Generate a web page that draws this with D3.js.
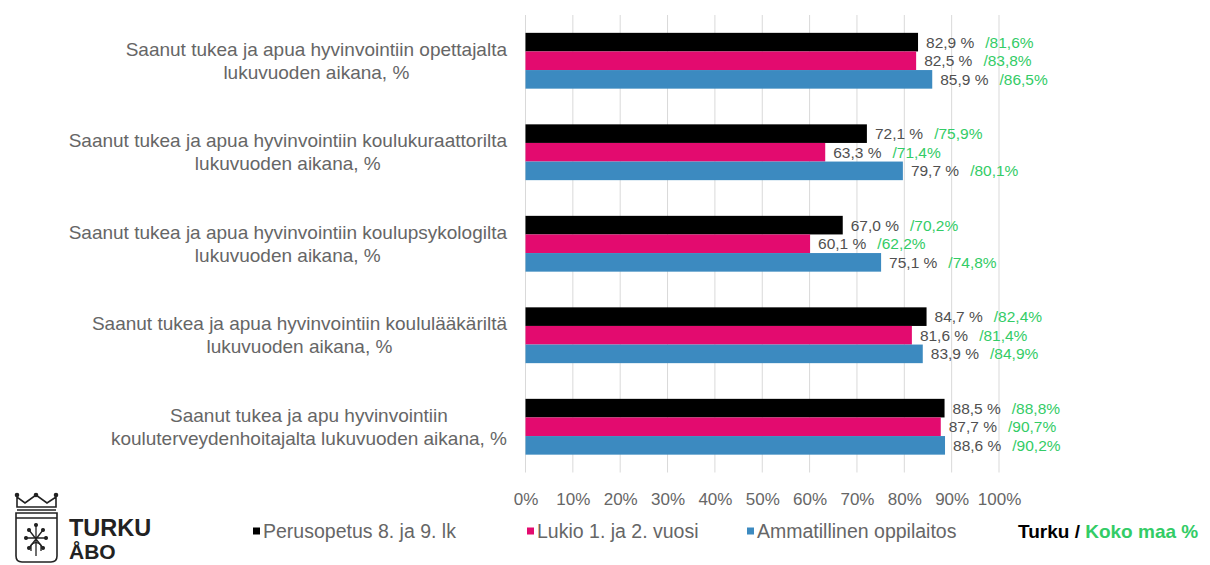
<!DOCTYPE html>
<html><head><meta charset="utf-8">
<script src="https://cdn.jsdelivr.net/npm/d3@7"></script>
<style>
html,body{margin:0;padding:0;background:#fff;}
svg{display:block;font-family:"Liberation Sans",Arial,sans-serif;}
</style></head>
<body>
<svg id="chart" width="1210" height="565"></svg>
<script>
// ---- data ----
const categories = [
  ["Saanut tukea ja apua hyvinvointiin opettajalta", "lukuvuoden aikana, %"],
  ["Saanut tukea ja apua hyvinvointiin koulukuraattorilta", "lukuvuoden aikana, %"],
  ["Saanut tukea ja apua hyvinvointiin koulupsykologilta", "lukuvuoden aikana, %"],
  ["Saanut tukea ja apua hyvinvointiin koululääkäriltä", "lukuvuoden aikana, %"],
  ["Saanut tukea ja apu hyvinvointiin", "kouluterveydenhoitajalta lukuvuoden aikana, %"]
];
const seriesNames = ["Perusopetus 8. ja 9. lk", "Lukio 1. ja 2. vuosi", "Ammatillinen oppilaitos"];
const turkuPerus = [82.9, 72.1, 67.0, 84.7, 88.5];
const turkuLukio = [82.5, 63.3, 60.1, 81.6, 87.7];
const turkuAmmat = [85.9, 79.7, 75.1, 83.9, 88.6];
const kokoMaaPerus = [81.6, 75.9, 70.2, 82.4, 88.8];
const kokoMaaLukio = [83.8, 71.4, 62.2, 81.4, 90.7];
const kokoMaaAmmat = [86.5, 80.1, 74.8, 84.9, 90.2];
const tickValues = [0,10,20,30,40,50,60,70,80,90,100];
const colors = ["#000000", "#E30B6F", "#3C8AC0"];
const green = "#33CC66";

const turku = [turkuPerus, turkuLukio, turkuAmmat];
const koko = [kokoMaaPerus, kokoMaaLukio, kokoMaaAmmat];
const fmt = v => d3.format(".1f")(v).replace(".", ",");

const svg = d3.select("#chart");
const x = d3.scaleLinear().domain([0,100]).range([525.5, 999]);
const y = d3.scaleBand().domain(d3.range(categories.length)).range([15, 472.5]).paddingInner(0.39).paddingOuter(0.195);
const ySub = d3.scaleBand().domain(d3.range(3)).range([0, y.bandwidth()]);

// gridlines
svg.append("g").selectAll("line").data(tickValues).join("line")
  .attr("x1", d => x(d)).attr("x2", d => x(d))
  .attr("y1", 15).attr("y2", 472.5)
  .attr("stroke", "#D9D9D9").attr("stroke-width", 1);

// axis
const axis = d3.axisBottom(x).tickValues(tickValues).tickFormat(d => d + "%").tickSize(0).tickPadding(20);
const gAxis = svg.append("g").attr("transform", "translate(0,472.5)").call(axis);
gAxis.select(".domain").remove();
gAxis.selectAll("text").attr("fill", "#666666").attr("font-size", 17).attr("font-family", "Liberation Sans, Arial, sans-serif");

// bars
const groups = svg.append("g").selectAll("g").data(categories).join("g")
  .attr("transform", (d,i) => `translate(0,${y(i)})`);
groups.each(function(cat, ci) {
  const g = d3.select(this);
  for (let s = 0; s < 3; s++) {
    const v = turku[s][ci];
    g.append("rect")
      .attr("x", x(0)).attr("y", ySub(s))
      .attr("width", x(v) - x(0)).attr("height", ySub.bandwidth())
      .attr("fill", colors[s]);
    const t = g.append("text")
      .attr("x", x(v) + 8).attr("y", ySub(s) + ySub.bandwidth()/2)
      .attr("dy", "0.35em").attr("font-size", 15.5);
    t.append("tspan").attr("fill", "#505050").text(fmt(v) + " %");
    t.append("tspan").attr("fill", green).attr("dx", 11).text("/" + fmt(koko[s][ci]) + "%");
  }
});

// category labels (block right-aligned, lines centred)
const labelRight = 507;
categories.forEach((lines, ci) => {
  const cy = y(ci) + y.bandwidth()/2;
  const g = svg.append("g");
  const texts = lines.map((ln, li) => g.append("text")
    .attr("y", cy + (li - (lines.length-1)/2) * 23)
    .attr("dy", "0.35em")
    .attr("font-size", 19).attr("fill", "#666666")
    .attr("text-anchor", "middle").text(ln));
  const w = d3.max(texts, t => t.node().getComputedTextLength());
  texts.forEach(t => t.attr("x", labelRight - w/2));
});

// legend
const legendX = [253, 527, 747];
const legendY = 531;
seriesNames.forEach((n, i) => {
  svg.append("rect").attr("x", legendX[i]).attr("y", legendY - 3.5).attr("width", 7).attr("height", 7).attr("fill", colors[i]);
  svg.append("text").attr("x", legendX[i] + 10).attr("y", legendY).attr("dy", "0.35em")
    .attr("font-size", 19.5).attr("fill", "#666666").text(n);
});
const lt = svg.append("text").attr("x", 1018).attr("y", legendY).attr("dy", "0.35em")
  .attr("font-size", 19).attr("font-weight", "bold");
lt.append("tspan").attr("fill", "#000").text("Turku / ");
lt.append("tspan").attr("fill", green).text("Koko maa %");

// logo
const logo = svg.append("g").attr("stroke", "#222").attr("fill", "none").attr("stroke-width", 1.6);
// crown
logo.append("path").attr("d", "M17,507 L17,497 L25,503 L36,495 L47,503 L56,497 L56,507 Z");
logo.append("line").attr("x1", 17).attr("x2", 56).attr("y1", 510).attr("y2", 510);
[17,36,56].forEach(cx => logo.append("circle").attr("cx", cx).attr("cy", 495).attr("r", 1.5).attr("fill", "#222"));
// shield
logo.append("path").attr("d", "M16,513 L57,513 L57,556 Q57,562 51,562 L22,562 Q16,562 16,556 Z");
logo.append("line").attr("x1", 16).attr("x2", 57).attr("y1", 518).attr("y2", 518);
// emblem
const em = logo.append("g").attr("stroke-width", 1.3);
em.append("path").attr("d", "M36,525 L36,556 M26,538 L46,538 M29,530 L43,548 M43,530 L29,548");
em.append("path").attr("d", "M31,545 Q36,540 41,545 M31,545 L31,551 M41,545 L41,551");
[[36,525],[26,538],[46,538],[29,530],[43,530],[29,548],[43,548]].forEach(p =>
  em.append("circle").attr("cx", p[0]).attr("cy", p[1]).attr("r", 1.4).attr("fill", "#222"));
svg.append("text").attr("x", 69).attr("y", 536).attr("font-size", 23.5).attr("font-weight", "bold")
  .attr("fill", "#222").attr("font-family", "Liberation Sans, Arial, sans-serif").text("TURKU");
svg.append("text").attr("x", 69).attr("y", 559).attr("font-size", 21).attr("font-weight", "bold")
  .attr("fill", "#222").attr("font-family", "Liberation Sans, Arial, sans-serif").text("ÅBO");
</script>
</body></html>
